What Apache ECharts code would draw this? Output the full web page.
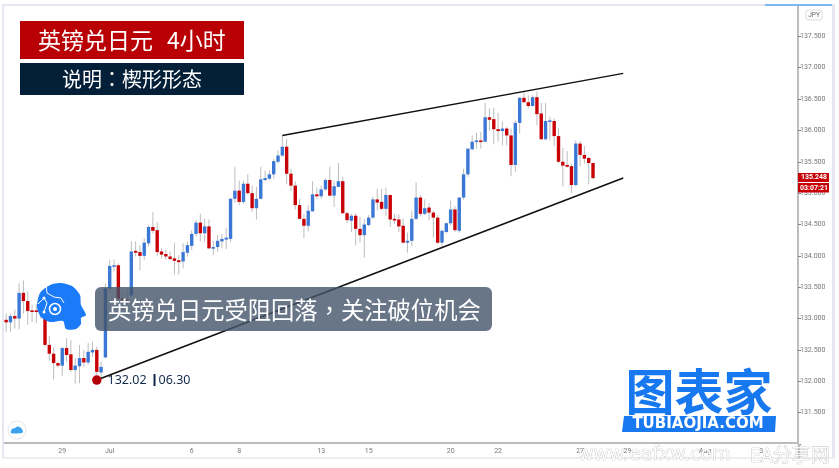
<!DOCTYPE html>
<html>
<head>
<meta charset="UTF-8">
<title>英镑兑日元 4小时</title>
<script src="https://cdn.jsdelivr.net/npm/echarts@6/dist/echarts.min.js"></script>
<style>
html,body{margin:0;padding:0;background:#fff;}
#chart{width:839px;height:468px;}
</style>
</head>
<body>
<div id="chart"></div>
<script>
// 4小时K线
var opens=[
132.98,132.94,133.04,133.00,133.41,133.28,133.13,133.13,133.12,133.12,
132.58,132.44,132.29,132.25,132.53,132.43,132.18,132.24,132.37,132.30,
132.46,132.50,132.14,132.38,133.48,133.84,133.85,133.32,133.30,133.37,
134.08,134.06,134.00,134.20,134.46,134.41,134.07,134.03,133.99,133.96,
133.93,133.91,134.05,134.16,134.35,134.53,134.36,134.47,134.12,134.14,
134.23,134.26,134.27,134.91,135.04,134.86,135.15,135.00,134.76,134.91,
135.21,135.23,135.30,135.50,135.60,135.74,135.31,135.12,134.81,134.59,
134.48,134.71,134.98,134.95,135.06,135.21,134.96,135.10,135.19,134.68,
134.56,134.64,134.43,134.33,134.49,134.61,134.90,134.86,134.75,134.97,
134.59,134.58,134.48,134.21,134.24,134.59,134.93,134.67,134.77,134.69,
134.61,134.21,134.38,134.52,134.74,134.40,134.93,135.30,135.70,135.82,
135.84,135.82,136.21,136.18,136.02,135.99,136.03,135.92,135.45,136.12,
136.52,136.45,136.39,136.53,136.27,135.86,136.14,136.15,135.91,135.50,
135.45,135.43,135.13,135.79,135.61,135.56,135.48];
var closes=[
132.94,133.04,133.00,133.41,133.28,133.12,133.11,133.11,133.11,132.58,
132.44,132.29,132.25,132.53,132.42,132.18,132.25,132.37,132.30,132.47,
132.50,132.15,132.23,133.48,133.84,133.85,133.32,133.29,133.28,134.07,
134.05,134.00,134.21,134.46,134.40,134.06,134.02,133.99,133.95,133.92,
133.90,134.06,134.17,134.35,134.53,134.36,134.47,134.12,134.14,134.24,
134.27,134.29,134.91,135.04,134.86,135.15,135.00,134.76,134.91,135.22,
135.24,135.30,135.51,135.60,135.74,135.31,135.12,134.81,134.59,134.48,
134.72,134.98,134.95,135.06,135.21,134.96,135.11,135.19,134.68,134.57,
134.64,134.43,134.33,134.50,134.61,134.90,134.85,134.75,134.97,134.58,
134.58,134.47,134.21,134.24,134.59,134.93,134.67,134.76,134.69,134.61,
134.21,134.40,134.52,134.74,134.41,134.93,135.30,135.71,135.82,135.84,
135.82,136.21,136.17,136.02,135.99,136.03,135.92,135.45,136.12,136.52,
136.45,136.39,136.53,136.26,135.86,136.15,136.16,135.91,135.50,135.44,
135.42,135.13,135.79,135.61,135.55,135.48,135.24];
var highs=[
133.08,133.08,133.14,133.56,133.61,133.43,133.22,133.23,133.20,133.25,
132.72,132.55,132.31,132.55,132.69,132.66,132.37,132.58,132.50,132.61,
132.63,132.55,132.31,133.56,133.94,133.94,133.88,133.45,133.48,134.23,
134.23,134.17,134.28,134.49,134.70,134.54,134.12,134.09,134.07,134.21,
134.01,134.20,134.23,134.41,134.57,134.67,134.59,134.58,134.24,134.33,
134.35,134.45,134.92,135.42,135.20,135.20,135.30,135.12,135.10,135.42,
135.36,135.36,135.55,135.68,135.92,135.86,135.39,135.19,134.91,134.67,
134.81,135.19,135.09,135.12,135.24,135.42,135.20,135.48,135.26,134.70,
134.67,134.68,134.62,134.59,134.65,134.94,135.07,135.07,135.09,134.98,
134.67,134.66,134.59,134.37,134.72,135.17,134.97,134.90,134.84,134.72,
134.65,134.42,134.53,134.88,134.79,134.94,135.39,135.71,135.92,135.96,
135.98,136.44,136.35,136.36,136.28,136.14,136.05,136.03,136.16,136.53,
136.61,136.56,136.56,136.62,136.44,136.44,136.22,136.19,136.04,135.72,
135.67,135.47,135.84,135.83,135.75,135.58,135.49];
var lows=[
132.79,132.79,132.84,132.83,133.08,132.90,132.95,132.93,133.00,132.55,
132.33,132.03,132.22,132.09,132.31,132.15,131.96,131.97,132.23,132.26,
132.39,132.10,132.07,132.37,133.45,133.75,133.25,133.24,133.22,133.35,
133.99,133.77,133.94,134.15,134.36,133.99,133.96,133.94,133.93,133.70,
133.70,133.80,133.99,134.09,134.31,134.23,134.22,134.11,134.01,134.06,
134.12,134.11,134.22,134.84,134.81,134.83,134.97,134.70,134.58,134.90,
135.19,135.21,135.23,135.47,135.58,135.14,135.03,134.74,134.58,134.28,
134.39,134.70,134.91,134.91,135.04,134.95,134.78,135.10,134.67,134.52,
134.38,134.17,134.22,133.97,134.47,134.59,134.73,134.73,134.63,134.46,
134.51,134.38,134.20,134.05,134.15,134.57,134.63,134.65,134.57,134.29,
134.19,134.15,134.36,134.49,134.38,134.37,134.90,135.26,135.68,135.71,
135.71,135.81,136.00,135.78,135.82,135.76,135.76,135.27,135.34,135.95,
136.44,136.35,136.38,136.08,135.85,135.84,135.84,135.75,135.48,135.11,
135.41,135.00,135.11,135.43,135.47,135.14,135.22];

// 时间轴：K线之后留白到 Aug
var barCount=184;
var dayNames=['29','Jul','6','8','13','15','20','22','27','29','Aug','3'];
var dayBars=[13,24,43,54,73,84,103,114,133,144,162,175];

// 楔形上下沿 [K线序号, 价格]
var upperLine=[[64,135.92],[143,136.91]];
var lowerLine=[[21,132.02],[143,135.24]];
var markPrice=132.02;
var markDate='06.30';
var lastPrice='135.248';
var countdown='03:07:21';

var categories=[];
for(var i=0;i<barCount;i++){
  var k=dayBars.indexOf(i);
  categories.push(k>=0?dayNames[k]:'');
}
var ohlc=opens.map(function(o,i){return [i,o,closes[i],lows[i],highs[i]];});

var cjk='"Noto Sans CJK TC"';

function renderCandle(params,api){
  var idx=api.value(0),o=api.value(1),c=api.value(2);
  var up=c>=o;
  var h=api.coord([idx,api.value(4)]);
  var l=api.coord([idx,api.value(3)]);
  var a=api.coord([idx,Math.max(o,c)]);
  var b=api.coord([idx,Math.min(o,c)]);
  var bh=Math.max(b[1]-a[1],1.6);
  return {
    type:'group',
    children:[
      {type:'line',shape:{x1:h[0],y1:h[1],x2:l[0],y2:l[1]},style:{stroke:'#bdbdbd',lineWidth:1}},
      {type:'rect',shape:{x:a[0]-1.7,y:a[1],width:3.4,height:bh},style:{fill:up?'#3b78d6':'#c80006'}}
    ]
  };
}

var mychart=echarts.init(document.getElementById('chart'),null,{renderer:'canvas'});

var option={
  animation:false,
  backgroundColor:'#fff',
  grid:{left:4,right:41,top:5,height:439},
  xAxis:{
    type:'category',
    data:categories,
    offset:-1,
    axisLine:{lineStyle:{color:'#bcbcbc',width:2}},
    axisTick:{alignWithLabel:true,length:3,lineStyle:{color:'#888'},
      interval:function(i){return dayBars.indexOf(i)>=0;}},
    axisLabel:{interval:0,fontSize:7,color:'#777',margin:5,fontFamily:'Roboto',hideOverlap:false},
    splitLine:{show:false}
  },
  yAxis:{
    type:'value',
    position:'right',
    min:131,
    max:138,
    interval:0.5,
    axisLine:{show:true,lineStyle:{color:'#bcbcbc',width:2}},
    axisTick:{show:true,length:3,lineStyle:{color:'#888'}},
    axisLabel:{fontSize:7,color:'#777',margin:2,fontFamily:'Roboto',
      formatter:function(v){return (v==131||v==138)?'':v.toFixed(3);}},
    splitLine:{show:false}
  },
  series:[
    {
      type:'custom',
      data:ohlc,
      encode:{x:0,y:[1,2,3,4]},
      renderItem:renderCandle,
      z:2
    },
    {type:'line',data:upperLine,symbol:'none',lineStyle:{color:'#111',width:1.4},z:3},
    {type:'line',data:lowerLine,symbol:'none',lineStyle:{color:'#111',width:1.6},z:3},
    {
      type:'scatter',
      data:[[lowerLine[0][0],markPrice]],
      symbolSize:9.5,
      itemStyle:{color:'#b40008',opacity:1},
      z:4,
      label:{
        show:true,
        position:'right',
        distance:6,
        color:'#122a4c',
        formatter:function(){return '{a|'+markPrice.toFixed(2)+'}{b|}{c|'+markDate+'}';},
        rich:{
          a:{width:46,fontSize:12.5,fontFamily:'"Noto Sans"',color:'#122a4c'},
          b:{width:2,height:12,backgroundColor:'#0c2748'},
          c:{fontSize:12.5,fontFamily:'"Noto Sans"',color:'#122a4c',padding:[0,0,0,3]}
        }
      }
    }
  ],
  graphic:{
    elements:[
      // 边框
      {type:'rect',z:1,shape:{x:2,y:4,width:833,height:2},style:{fill:'#e6e7f0'}},
      {type:'rect',z:1,shape:{x:2,y:4,width:2,height:455},style:{fill:'#e6e7f0'}},
      {type:'rect',z:1,shape:{x:832,y:4,width:3,height:455},style:{fill:'#e6e7f0'}},
      {type:'rect',z:1,shape:{x:2,y:457,width:833,height:2},style:{fill:'#eceef3'}},
      {type:'rect',z:1,shape:{x:798,y:444,width:2,height:14},style:{fill:'#bcbcbc'}},
      {type:'rect',z:1,shape:{x:765,y:4,width:67,height:2},style:{fill:'#7db8ec'}},
      // JPY
      {type:'rect',z:20,shape:{x:806,y:10,width:16,height:10,r:2},style:{fill:'#fff',stroke:'#d9dbe3',lineWidth:1}},
      {type:'text',z:21,x:814,y:15,style:{text:'JPY',fontSize:6.5,fontFamily:'Roboto',fill:'#666',align:'center',verticalAlign:'middle'}},
      // 现价
      {type:'rect',z:20,shape:{x:798,y:173,width:31,height:9},style:{fill:'#c80006'}},
      {type:'rect',z:20,shape:{x:798,y:183,width:31,height:9.5},style:{fill:'#c80006'}},
      {type:'text',z:21,x:814,y:177.5,style:{text:lastPrice,fontSize:7,fontWeight:'bold',fontFamily:'Roboto',fill:'#fff',align:'center',verticalAlign:'middle'}},
      {type:'text',z:21,x:814,y:187.8,style:{text:countdown,fontSize:7,fontWeight:'bold',fontFamily:'Roboto',fill:'#fff',align:'center',verticalAlign:'middle'}},
      // 标题
      {type:'rect',z:20,shape:{x:20,y:21,width:224,height:38},style:{fill:'#b80005'}},
      {type:'text',z:21,x:38,y:40,style:{text:'英镑兑日元',fontSize:23,fontFamily:cjk,fill:'#fff',verticalAlign:'middle'}},
      {type:'text',z:21,x:167,y:40,style:{text:'4小时',fontSize:23,fontFamily:cjk,fill:'#fff',verticalAlign:'middle'}},
      {type:'rect',z:20,shape:{x:20,y:63,width:224,height:32},style:{fill:'#041f38'}},
      {type:'text',z:21,x:62,y:79,style:{text:'说明：楔形形态',fontSize:20,fontFamily:cjk,fill:'#fff',verticalAlign:'middle'}},
      // 头像
      {type:'polygon',z:22,shape:{smooth:0.25,points:[[37,307],[40,293],[50,285],[60,283],[72,286],[80,295],[81,305],[86,315],[81,318],[81,324],[76,329],[66,329],[63,321],[50,322],[41,317]]},style:{fill:'#1a7af8'}},
      {type:'circle',z:23,shape:{cx:55,cy:309,r:5.5},style:{fill:'#1a7af8',stroke:'#fff',lineWidth:1.5}},
      {type:'circle',z:23,shape:{cx:55,cy:309,r:2},style:{fill:'#fff'}},
      {type:'polyline',z:23,shape:{points:[[46,285],[47,293],[54,297],[61,298],[64,303]]},style:{stroke:'#fff',fill:null,lineWidth:1}},
      {type:'polyline',z:23,shape:{points:[[38,304],[44,298],[47,303],[44,312]]},style:{stroke:'#fff',fill:null,lineWidth:1}},
      {type:'circle',z:23,shape:{cx:44,cy:298,r:1.5},style:{fill:'#fff'}},
      {type:'circle',z:23,shape:{cx:44,cy:312,r:1.5},style:{fill:'#fff'}},
      // 说明条
      {type:'rect',z:20,shape:{x:95,y:287,width:397,height:44,r:6},style:{fill:'rgba(66,84,106,0.8)'}},
      {type:'text',z:21,x:108,y:310,style:{text:'英镑兑日元受阻回落，关注破位机会',fontSize:23.3,fontFamily:cjk,fill:'#fff',verticalAlign:'middle'}},
      // 图表家
      {type:'text',z:21,x:699,y:391,style:{text:'图表家',fontSize:49,fontWeight:'bold',fontFamily:'"Noto Sans CJK SC"',fill:'#1878f0',align:'center',verticalAlign:'middle'}},
      {type:'polygon',z:20,shape:{points:[[624,416],[776,416],[775,432],[622,432]]},style:{fill:'#1878f0'}},
      {type:'text',z:21,x:698,y:424.5,style:{text:'TUBIAOJIA.COM',fontSize:15,fontWeight:'bold',fontFamily:'"DejaVu Sans"',fill:'#fff',align:'center',verticalAlign:'middle'}},
      // 云图标
      {type:'circle',z:20,shape:{cx:17,cy:430,r:9},style:{fill:'#fff',stroke:'#e3e5ea',lineWidth:1}},
      {type:'polygon',z:21,shape:{smooth:0.3,points:[[11,433],[12,429],[15,428],[18,426.5],[21,428],[23,431],[22,433]]},style:{fill:'#3ba0ee'}},
      // 水印
      {type:'text',z:30,x:578,y:455,style:{text:'www.eafxw.com',fontSize:19,fontFamily:'"DejaVu Sans"',fill:'rgba(255,255,255,0.85)',stroke:'rgba(165,165,165,0.7)',lineWidth:0.7,verticalAlign:'middle'}},
      {type:'text',z:30,x:750,y:455,style:{text:'EA分享网',fontSize:19,fontFamily:'"Noto Sans CJK SC"',fill:'rgba(255,255,255,0.85)',stroke:'rgba(165,165,165,0.7)',lineWidth:0.7,verticalAlign:'middle'}}
    ]
  }
};

mychart.setOption(option);
</script>
</body>
</html>
